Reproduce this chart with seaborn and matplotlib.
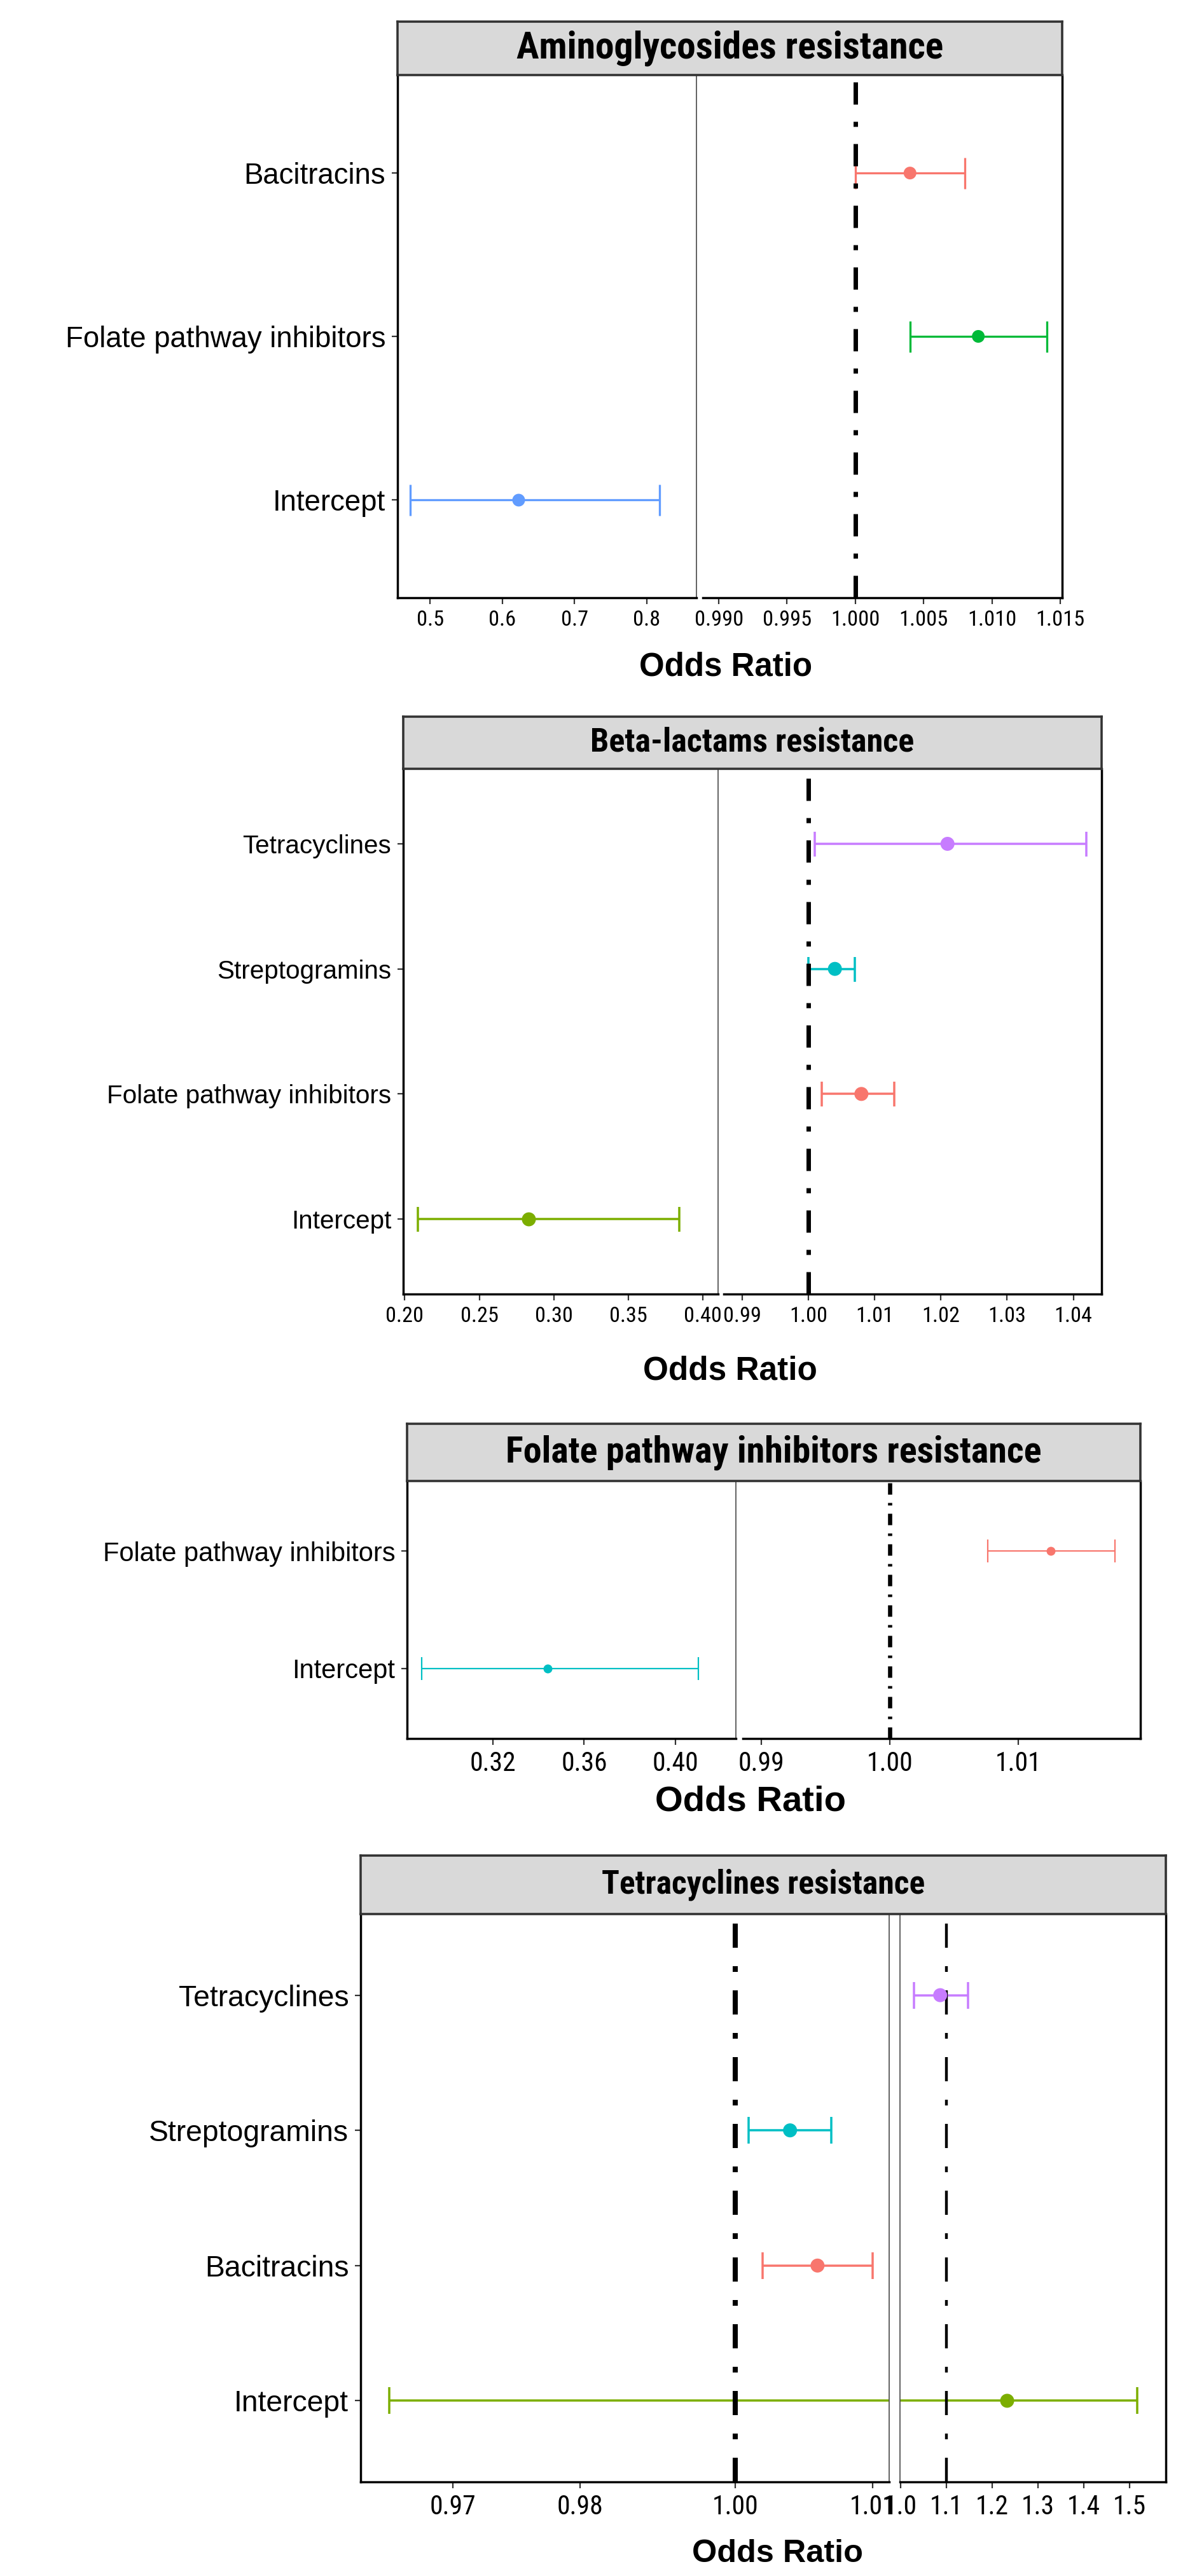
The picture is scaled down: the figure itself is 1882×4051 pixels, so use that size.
import os
import numpy as np
import pandas as pd
import seaborn as sns
import matplotlib
matplotlib.use("Agg")
import matplotlib.pyplot as plt
from matplotlib import font_manager
from matplotlib.font_manager import FontProperties
from matplotlib.ticker import FixedLocator, FormatStrFormatter

# ---- data (odds ratio, 95% CI) ----
amino_terms = ["Bacitracins", "Folate pathway inhibitors", "Intercept"]
amino_or = [1.004, 1.009, 0.622]
amino_lo = [1.000, 1.004, 0.473]
amino_hi = [1.008, 1.014, 0.818]
amino_side = ["right", "right", "left"]

beta_terms = ["Tetracyclines", "Streptogramins", "Folate pathway inhibitors", "Intercept"]
beta_or = [1.021, 1.004, 1.008, 0.283]
beta_lo = [1.001, 1.000, 1.002, 0.209]
beta_hi = [1.042, 1.007, 1.013, 0.384]
beta_side = ["right", "right", "right", "left"]

folate_terms = ["Folate pathway inhibitors", "Intercept"]
folate_or = [1.0125, 0.344]
folate_lo = [1.0076, 0.289]
folate_hi = [1.0175, 0.410]
folate_side = ["right", "left"]

tetra_terms = ["Tetracyclines", "Streptogramins", "Bacitracins", "Intercept"]
tetra_or = [1.087, 1.004, 1.006, 1.233]
tetra_lo = [1.030, 1.001, 1.002, 0.965]
tetra_hi = [1.147, 1.007, 1.010, 1.516]
tetra_side = ["right", "left", "left", "both"]

# uneven spacing of the lower axis in the last panel
tetra_axis_vals = [0.96, 0.97, 0.98, 1.00, 1.01, 1.02]
tetra_axis_pos = [0.0, 1.0, 2.0, 3.216, 4.294, 5.372]

# ggplot default hue colours, used in alphabetical term order
GG_HUE = {2: ["#F8766D", "#00BFC4"],
          3: ["#F8766D", "#00BA38", "#619CFF"],
          4: ["#F8766D", "#7CAE00", "#00BFC4", "#C77CFF"]}

W, H = 1882, 4051
PT = 0.72  # points per pixel at dpi 100

sns.set_theme(style="white")
plt.rcParams["font.family"] = ["Liberation Sans", "DejaVu Sans"]
plt.rcParams["lines.scale_dashes"] = False


def find_font(keys):
    files = [f.fname for f in font_manager.fontManager.ttflist]
    for k in keys:
        for fn in files:
            if os.path.basename(fn).startswith(k):
                return fn
    return None


# narrow faces for strip titles and tick labels, plain ones otherwise
cond_reg = find_font(["LiberationSansNarrow-Regular", "RobotoCondensed-Regular", "NotoSans-CondensedMedium",
                      "NotoSans-Condensed.", "DejaVuSansCondensed.", "OpenSans_Condensed-Regular", "OpenSans-CondLight"])
cond_bold = find_font(["LiberationSansNarrow-Bold.", "RobotoCondensed-Bold.", "NotoSans-CondensedBold.",
                       "DejaVuSansCondensed-Bold.", "OpenSans_Condensed-Bold.", "OpenSans-CondBold"])


def fprop(fname, size, bold=False):
    if fname:
        return FontProperties(fname=fname, size=size)
    return FontProperties(family="Liberation Sans", weight="bold" if bold else "normal", size=size)


panels = [
    dict(title="Aminoglycosides resistance", terms=amino_terms, orr=amino_or, lo=amino_lo, hi=amino_hi, side=amino_side,
         header=(625, 34, 1670, 118), left=(625, 118, 1095, 940), right=(1105, 118, 1670, 940), xlab=(1141, 1049),
         lxlim=(0.455, 0.869), rxlim=(0.98883, 1.01514),
         lticks=[0.5, 0.6, 0.7, 0.8], rticks=[0.990, 0.995, 1.000, 1.005, 1.010, 1.015], lfmt="%.1f", rfmt="%.3f",
         refs=[("right", 1.0, 7)], dash=(35, 27, 8),
         ysize=32.8, tick_w=("0.990", 77, 28), title_w=(669, 46), lsize=36.7, mk=20, elw=3.3, cap=49,
         rspine=False, fscale=False),
    dict(title="Beta-lactams resistance", terms=beta_terms, orr=beta_or, lo=beta_lo, hi=beta_hi, side=beta_side,
         header=(634, 1127, 1732, 1209), left=(634, 1209, 1129, 2035), right=(1138, 1209, 1732, 2035), xlab=(1148, 2156),
         lxlim=(0.199, 0.4102), rxlim=(0.98723, 1.04426),
         lticks=[0.20, 0.25, 0.30, 0.35, 0.40], rticks=[0.99, 1.00, 1.01, 1.02, 1.03, 1.04], lfmt="%.2f", rfmt="%.2f",
         refs=[("right", 1.0, 7)], dash=(35, 27, 8),
         ysize=29.1, tick_w=("0.20", 60, 28), title_w=(508, 44), lsize=37, mk=22, elw=3.5, cap=39,
         rspine=False, fscale=False),
    dict(title="Folate pathway inhibitors resistance", terms=folate_terms, orr=folate_or, lo=folate_lo, hi=folate_hi,
         side=folate_side,
         header=(640, 2239, 1793, 2329), left=(640, 2329, 1157, 2734), right=(1168, 2329, 1793, 2734), xlab=(1180, 2834),
         lxlim=(0.2826, 0.4263), rxlim=(0.98858, 1.01949),
         lticks=[0.32, 0.36, 0.40], rticks=[0.99, 1.00, 1.01], lfmt="%.2f", rfmt="%.2f",
         refs=[("right", 1.0, 6.6)], dash=(18, 13, 4),
         ysize=30, tick_w=("0.32", 78, 30), title_w=(840, 48), lsize=40.5, mk=14, elw=2.2, cap=36,
         rspine=False, fscale=False),
    dict(title="Tetracyclines resistance", terms=tetra_terms, orr=tetra_or, lo=tetra_lo, hi=tetra_hi, side=tetra_side,
         header=(567, 2918, 1833, 3010), left=(567, 3010, 1398, 3903), right=(1415, 3010, 1833, 3903), xlab=(1222, 4016),
         lxlim=(0.96275, 1.01122), rxlim=(0.9993, 1.579),
         lticks=[0.97, 0.98, 1.00, 1.01], rticks=[1.0, 1.1, 1.2, 1.3, 1.4, 1.5], lfmt="%.2f", rfmt="%.1f",
         refs=[("left", 1.0, 8), ("right", 1.1, 4.4)], dash=(38, 29, 9),
         ysize=33.3, tick_w=("0.97", 75.6, 30), title_w=(506, 44), lsize=36.3, mk=22, elw=3.5, cap=42,
         rspine=True, fscale=True),
]


def box(px):
    x0, y0, x1, y1 = px
    return [x0 / W, 1 - y1 / H, (x1 - x0) / W, (y1 - y0) / H]


def fwd(v):
    return np.interp(v, tetra_axis_vals, tetra_axis_pos)


def inv(p):
    return np.interp(p, tetra_axis_pos, tetra_axis_vals)


fig = plt.figure(figsize=(W / 100, H / 100), dpi=100)
fig.patch.set_facecolor("white")
renderer = fig.canvas.get_renderer()


def fit_size(text, fname, bold, target_px, max_pt):
    # font size giving the measured width, not taller than the reference glyphs
    t = fig.text(0, 0, text, fontproperties=fprop(fname, 20, bold))
    w = t.get_window_extent(renderer=renderer).width
    t.remove()
    return min(20 * target_px / w, max_pt)


for p in panels:
    n = len(p["terms"])
    df = pd.DataFrame({"term": p["terms"], "or": p["orr"], "lo": p["lo"], "hi": p["hi"],
                       "side": p["side"], "pos": np.arange(n)})
    colors = dict(zip(sorted(p["terms"]), GG_HUE[n]))

    axl = fig.add_axes(box(p["left"]))
    axr = fig.add_axes(box(p["right"]), sharey=axl)
    if p["fscale"]:
        axl.set_xscale("function", functions=(fwd, inv))

    for ax, name in [(axl, "left"), (axr, "right")]:
        sub = df[(df.side == name) | (df.side == "both")]
        for _, r in sub.iterrows():
            ax.errorbar(r["or"], r["pos"], xerr=[[r["or"] - r["lo"]], [r["hi"] - r["or"]]],
                        fmt="none", ecolor=colors[r["term"]], elinewidth=p["elw"] * PT,
                        capsize=p["cap"] / 2 * PT, capthick=p["elw"] * PT, zorder=2)
        sns.scatterplot(data=sub, x="or", y="pos", hue="term", palette=colors,
                        s=(p["mk"] * PT) ** 2, linewidth=0, legend=False, ax=ax, zorder=3)
        ax.set_xlabel("")
        ax.set_ylabel("")
        ax.set_facecolor("white")

    long_, gap, dot = p["dash"]
    for side, val, lw in p["refs"]:
        ax = axl if side == "left" else axr
        ax.axvline(val, color="black", lw=lw * PT, zorder=2.5,
                   linestyle=(0, (long_ * PT, gap * PT, dot * PT, gap * PT)))

    axl.set_xlim(*p["lxlim"])
    axr.set_xlim(*p["rxlim"])
    axl.set_ylim(n - 0.4, -0.6)
    axl.xaxis.set_major_locator(FixedLocator(p["lticks"]))
    axr.xaxis.set_major_locator(FixedLocator(p["rticks"]))
    axl.xaxis.set_major_formatter(FormatStrFormatter(p["lfmt"]))
    axr.xaxis.set_major_formatter(FormatStrFormatter(p["rfmt"]))
    axl.xaxis.set_minor_locator(FixedLocator([]))
    axl.set_yticks(np.arange(n))
    axl.set_yticklabels(p["terms"])

    sample, tw, tmax = p["tick_w"]
    tick_fp = fprop(cond_reg, fit_size(sample, cond_reg, False, tw, tmax))
    for ax in (axl, axr):
        ax.tick_params(axis="x", which="major", bottom=True, direction="out", length=7,
                       width=1.6, color="#333333", pad=7, labelcolor="black")
        for lab in ax.get_xticklabels():
            lab.set_fontproperties(tick_fp)
        ax.spines["top"].set_visible(False)
        ax.spines["bottom"].set_color("black")
        ax.spines["bottom"].set_linewidth(2.5)
    axl.tick_params(axis="y", left=True, direction="out", length=6.5, width=1.6,
                    color="#333333", pad=7, labelsize=p["ysize"], labelcolor="black")
    axr.tick_params(axis="y", left=False, labelleft=False)
    axl.spines["left"].set_color("black")
    axl.spines["left"].set_linewidth(2.5)
    axl.spines["right"].set_color("#555555")
    axl.spines["right"].set_linewidth(1.3)
    axr.spines["right"].set_color("black")
    axr.spines["right"].set_linewidth(2.5)
    if p["rspine"]:
        axr.spines["left"].set_color("#555555")
        axr.spines["left"].set_linewidth(1.3)
    else:
        axr.spines["left"].set_visible(False)

    # facet strip
    axh = fig.add_axes(box(p["header"]))
    axh.set_facecolor("#D9D9D9")
    axh.set_xticks([])
    axh.set_yticks([])
    for sp in axh.spines.values():
        sp.set_color("#333333")
        sp.set_linewidth(2.6)
    tw, tmax = p["title_w"]
    title_fp = fprop(cond_bold, fit_size(p["title"], cond_bold, True, tw, tmax), bold=True)
    axh.text(0.5, 0.5, p["title"], transform=axh.transAxes, ha="center", va="center",
             fontproperties=title_fp, color="black")

    fig.text(p["xlab"][0] / W, 1 - p["xlab"][1] / H, "Odds Ratio", ha="center", va="center",
             fontsize=p["lsize"], fontweight="bold", color="black")

fig.savefig("out.png", dpi=100, facecolor="white")
